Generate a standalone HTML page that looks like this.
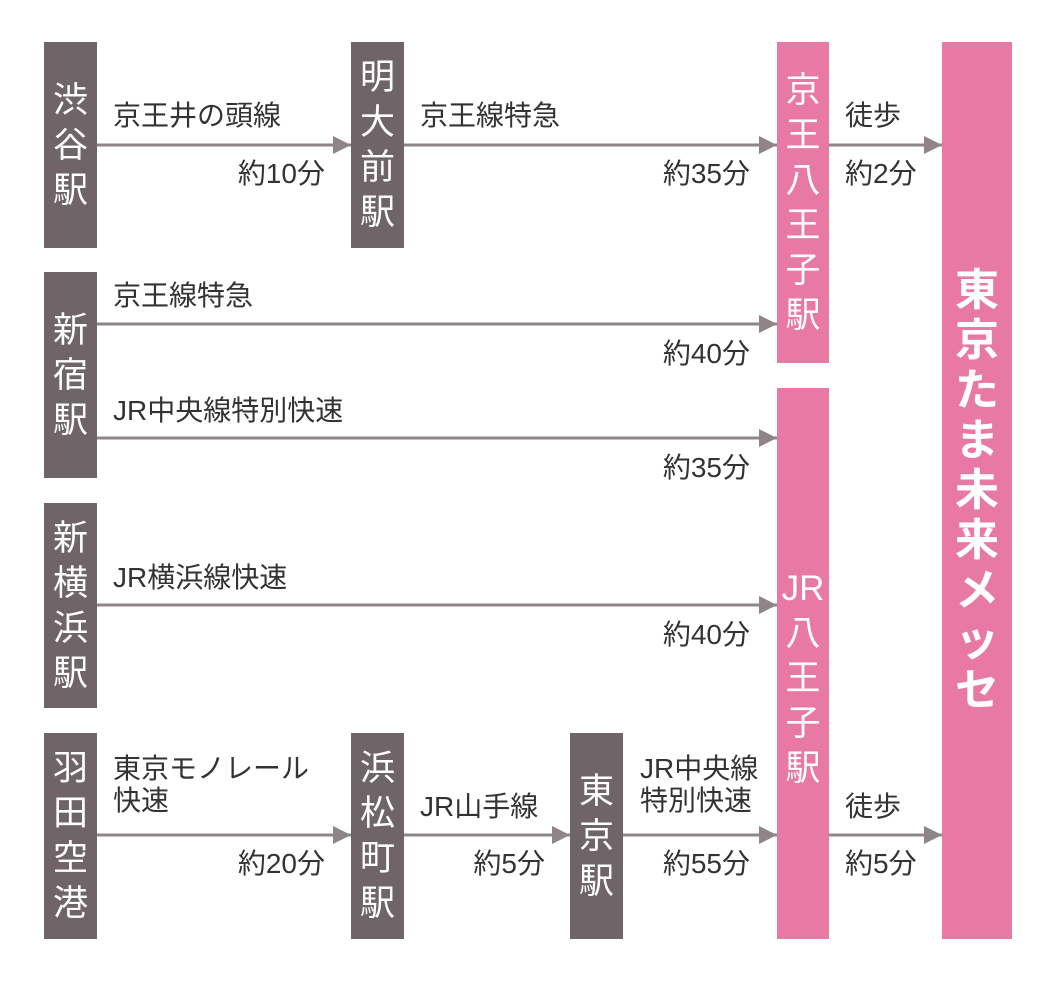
<!DOCTYPE html>
<html><head><meta charset="utf-8"><style>
body{margin:0;width:1062px;height:981px;background:#fff;position:relative;overflow:hidden;font-family:"Liberation Sans","Noto Sans CJK JP",sans-serif;}
.b{position:absolute;background:#6f6569;color:#fff;display:flex;flex-direction:column;align-items:center;justify-content:center;font-size:35px;line-height:45px;}
.p{background:#e879a4;}
.t{position:absolute;font-size:28px;color:#333;line-height:32px;white-space:nowrap;}
.r{text-align:right;}
svg{position:absolute;left:0;top:0;}
</style></head><body>
<svg width="1062" height="981">
<defs><marker id="a" markerWidth="6" markerHeight="6" refX="6" refY="3" orient="auto" markerUnits="strokeWidth"><path d="M0,0 L6,3 L0,6 z" fill="#8f8589"/></marker></defs>
<g stroke="#8f8589" stroke-width="3" marker-end="url(#a)">
<line x1="97" y1="145" x2="351" y2="145"/>
<line x1="404" y1="145" x2="777" y2="145"/>
<line x1="829" y1="145" x2="942" y2="145"/>
<line x1="97" y1="324" x2="777" y2="324"/>
<line x1="97" y1="438" x2="777" y2="438"/>
<line x1="97" y1="605" x2="777" y2="605"/>
<line x1="97" y1="835" x2="351" y2="835"/>
<line x1="404" y1="835" x2="570" y2="835"/>
<line x1="623" y1="835" x2="777" y2="835"/>
<line x1="829" y1="835" x2="942" y2="835"/>
</g></svg>
<div class="b" style="left:44px;top:42px;width:53px;height:206px"><span>渋</span><span>谷</span><span>駅</span></div>
<div class="b" style="left:44px;top:272px;width:53px;height:206px"><span>新</span><span>宿</span><span>駅</span></div>
<div class="b" style="left:44px;top:503px;width:53px;height:205px"><span>新</span><span>横</span><span>浜</span><span>駅</span></div>
<div class="b" style="left:44px;top:733px;width:53px;height:206px"><span>羽</span><span>田</span><span>空</span><span>港</span></div>
<div class="b" style="left:351px;top:42px;width:53px;height:206px"><span>明</span><span>大</span><span>前</span><span>駅</span></div>
<div class="b" style="left:351px;top:733px;width:53px;height:206px"><span>浜</span><span>松</span><span>町</span><span>駅</span></div>
<div class="b" style="left:570px;top:733px;width:53px;height:206px"><span>東</span><span>京</span><span>駅</span></div>
<div class="b p" style="left:777px;top:42px;width:52px;height:321px"><span>京</span><span>王</span><span>八</span><span>王</span><span>子</span><span>駅</span></div>
<div class="b p" style="left:777px;top:388px;width:52px;height:551px;padding-top:30px;box-sizing:border-box"><span>JR</span><span>八</span><span>王</span><span>子</span><span>駅</span></div>
<div class="b p" style="left:942px;top:42px;width:70px;height:897px;font-size:44px;line-height:50px;font-weight:bold"><span>東</span><span>京</span><span>た</span><span>ま</span><span>未</span><span>来</span><span>メ</span><span>ッ</span><span>セ</span></div>
<div class="t" style="left:113px;top:100px">京王井の頭線</div>
<div class="t r" style="left:180px;width:145px;top:158px">約10分</div>
<div class="t" style="left:420px;top:100px">京王線特急</div>
<div class="t r" style="left:580px;width:170px;top:158px">約35分</div>
<div class="t" style="left:845px;top:100px">徒歩</div>
<div class="t" style="left:845px;top:158px">約2分</div>
<div class="t" style="left:113px;top:280px">京王線特急</div>
<div class="t r" style="left:580px;width:170px;top:338px">約40分</div>
<div class="t" style="left:113px;top:395px">JR中央線特別快速</div>
<div class="t r" style="left:580px;width:170px;top:452px">約35分</div>
<div class="t" style="left:113px;top:562px">JR横浜線快速</div>
<div class="t r" style="left:580px;width:170px;top:619px">約40分</div>
<div class="t" style="left:113px;top:753px">東京モノレール<br>快速</div>
<div class="t r" style="left:180px;width:145px;top:848px">約20分</div>
<div class="t" style="left:420px;top:791px">JR山手線</div>
<div class="t r" style="left:400px;width:145px;top:848px">約5分</div>
<div class="t" style="left:640px;top:753px">JR中央線<br>特別快速</div>
<div class="t r" style="left:580px;width:170px;top:848px">約55分</div>
<div class="t" style="left:845px;top:791px">徒歩</div>
<div class="t" style="left:845px;top:848px">約5分</div>
</body></html>
